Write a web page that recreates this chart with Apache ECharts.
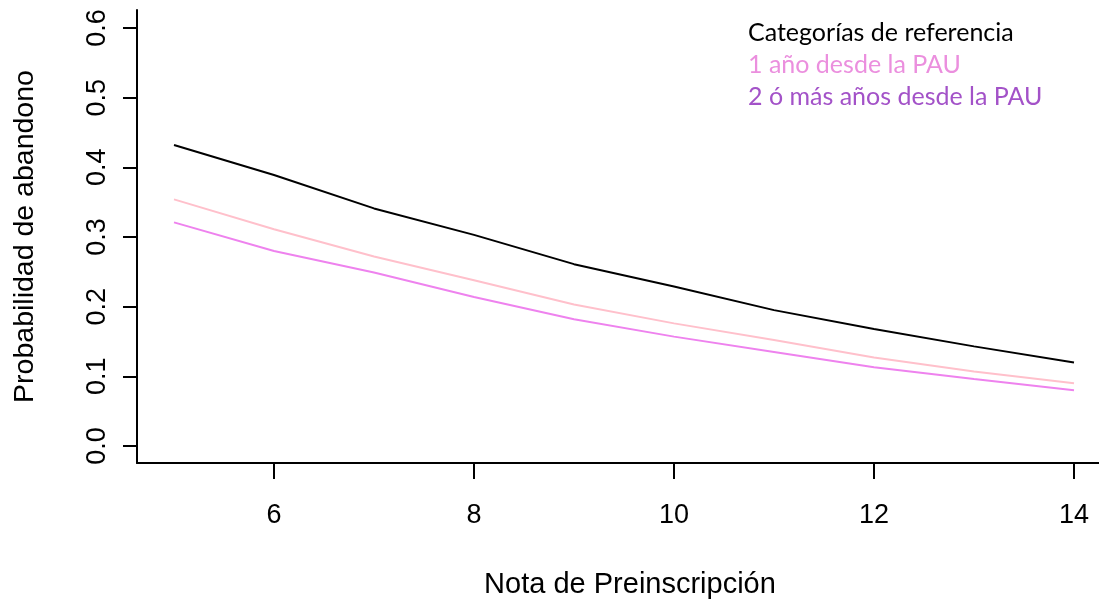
<!DOCTYPE html>
<html>
<head>
<meta charset="utf-8">
<script src="https://cdn.jsdelivr.net/npm/echarts@6/dist/echarts.min.js"></script>
<style>
  html, body { margin: 0; padding: 0; background: #fff; }
  #main { width: 1099px; height: 603px; }
</style>
</head>
<body>
<div id="main"></div>
<script>
// notas de preinscripción (eje x)
let notas = [5, 6, 7, 8, 9, 10, 11, 12, 13, 14];

// probabilidad de abandono por categoría
let refCat = [0.432, 0.389, 0.341, 0.303, 0.261, 0.229, 0.195, 0.168, 0.143, 0.120];
let unAno  = [0.354, 0.311, 0.272, 0.238, 0.203, 0.176, 0.152, 0.127, 0.107, 0.090];
let dosAnos = [0.321, 0.280, 0.249, 0.214, 0.182, 0.157, 0.135, 0.113, 0.096, 0.080];

let nombres = ['Categorías de referencia', '1 año desde la PAU', '2 ó más años desde la PAU'];

// ticks
let xTicks = [6, 8, 10, 12, 14];
let yTicks = [0, 0.1, 0.2, 0.3, 0.4, 0.5, 0.6];

let pares = arr => arr.map((v, i) => [notas[i], v]);

let myChart = echarts.init(document.getElementById('main'));

myChart.setOption({
    animation: false,
    backgroundColor: '#fff',
    grid: { left: 137, right: 0, top: 10, bottom: 140, outerBoundsMode: 'none', containLabel: false },
    legend: {
        orient: 'vertical',
        left: 738,
        top: 15,
        icon: 'none',
        itemWidth: 0,
        itemHeight: 25,
        itemGap: 7,
        selectedMode: false,
        textStyle: { fontFamily: 'Lato', fontSize: 25 },
        data: [
            { name: nombres[0], textStyle: { color: '#000000' } },
            { name: nombres[1], textStyle: { color: '#EB8FDE' } },
            { name: nombres[2], textStyle: { color: '#A352C8' } }
        ]
    },
    xAxis: {
        type: 'value',
        min: 4.63,
        max: 14.25,
        name: 'Nota de Preinscripción',
        nameLocation: 'middle',
        nameGap: 107,
        nameTextStyle: { fontFamily: 'Liberation Sans', fontSize: 29, color: '#000', padding: [0, 0, 0, 24] },
        splitLine: { show: false },
        axisLine: { show: true, onZero: false, lineStyle: { color: '#000', width: 2 } },
        axisTick: { show: true, length: 16, customValues: xTicks, lineStyle: { color: '#000', width: 2 } },
        axisLabel: {
            customValues: xTicks,
            margin: 39,
            fontFamily: 'Liberation Sans',
            fontSize: 27,
            color: '#000'
        }
    },
    yAxis: {
        type: 'value',
        min: -0.0244,
        max: 0.6258,
        name: 'Probabilidad de abandono',
        nameLocation: 'middle',
        nameGap: 97,
        nameRotate: 90,
        nameTextStyle: { fontFamily: 'Liberation Sans', fontSize: 28.5, color: '#000' },
        splitLine: { show: false },
        axisLine: { show: true, onZero: false, lineStyle: { color: '#000', width: 2 } },
        axisTick: { show: true, length: 14, customValues: yTicks, lineStyle: { color: '#000', width: 2 } },
        axisLabel: {
            customValues: yTicks,
            rotate: 90,
            margin: 26,
            fontFamily: 'Liberation Sans',
            fontSize: 27,
            color: '#000',
            formatter: v => v.toFixed(1)
        }
    },
    series: [
        {
            name: nombres[0], type: 'line', showSymbol: false,
            lineStyle: { color: '#000000', width: 2 }, itemStyle: { color: '#000000' },
            data: pares(refCat)
        },
        {
            name: nombres[1], type: 'line', showSymbol: false,
            lineStyle: { color: '#FFC0CB', width: 2 }, itemStyle: { color: '#FFC0CB' },
            data: pares(unAno)
        },
        {
            name: nombres[2], type: 'line', showSymbol: false,
            lineStyle: { color: '#EE82EE', width: 2 }, itemStyle: { color: '#EE82EE' },
            data: pares(dosAnos)
        }
    ]
});

window.addEventListener('resize', () => { myChart.resize() });
</script>
</body>
</html>
